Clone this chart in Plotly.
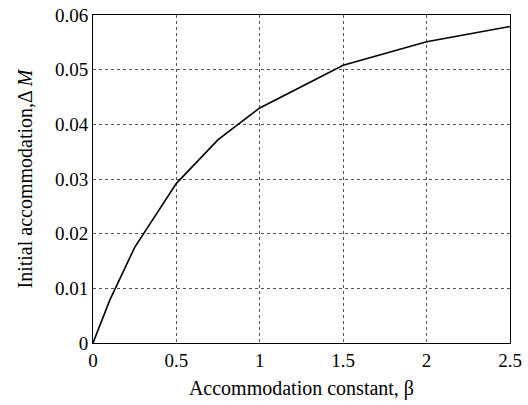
import plotly.graph_objects as go

beta = [0, 0.1, 0.25, 0.5, 0.75, 1.0, 1.5, 2.0, 2.5]
delta_m = [0, 0.0078, 0.0175, 0.0292, 0.0372, 0.0430, 0.0508, 0.0551, 0.0579]
x_ticks = [0, 0.5, 1, 1.5, 2, 2.5]
x_labels = ["0", "0.5", "1", "1.5", "2", "2.5"]
y_ticks = [0, 0.01, 0.02, 0.03, 0.04, 0.05, 0.06]
y_labels = ["0", "0.01", "0.02", "0.03", "0.04", "0.05", "0.06"]

fig = go.Figure()
fig.add_trace(go.Scatter(x=beta, y=delta_m, mode="lines",
                         line=dict(color="black", width=1.6), showlegend=False,
                         hoverinfo="skip"))

tick_font = dict(family="Liberation Serif", size=19, color="black")
title_font = dict(family="Liberation Serif", size=20, color="black")
fig.update_layout(
    width=528, height=405,
    margin=dict(l=93, r=18, t=15, b=62, autoexpand=False),
    paper_bgcolor="white", plot_bgcolor="white",
    font=tick_font,
)
fig.update_xaxes(range=[0, 2.5], tickvals=x_ticks, ticktext=x_labels,
                 tickfont=tick_font, automargin=False, ticklabeloverflow="allow",
                 showgrid=True, gridcolor="#555555", griddash="dot", gridwidth=1,
                 showline=True, linecolor="black", linewidth=1, mirror=True,
                 zeroline=False, ticks="", ticklen=0,
                 title=dict(text="Accommodation constant, β", standoff=11, font=title_font))
fig.update_yaxes(range=[0, 0.06], tickvals=y_ticks, ticktext=y_labels,
                 tickfont=tick_font, automargin=False, ticklabeloverflow="allow",
                 showgrid=True, gridcolor="#555555", griddash="dot", gridwidth=1,
                 showline=True, linecolor="black", linewidth=1, mirror=True,
                 zeroline=False, ticks="", ticklen=0,
                 title=dict(text="Initial accommodation,Δ <i>M</i>", standoff=16, font=title_font))

fig.write_html("out.html", config={"displayModeBar": False},
               post_script="document.body.style.margin='0';")
